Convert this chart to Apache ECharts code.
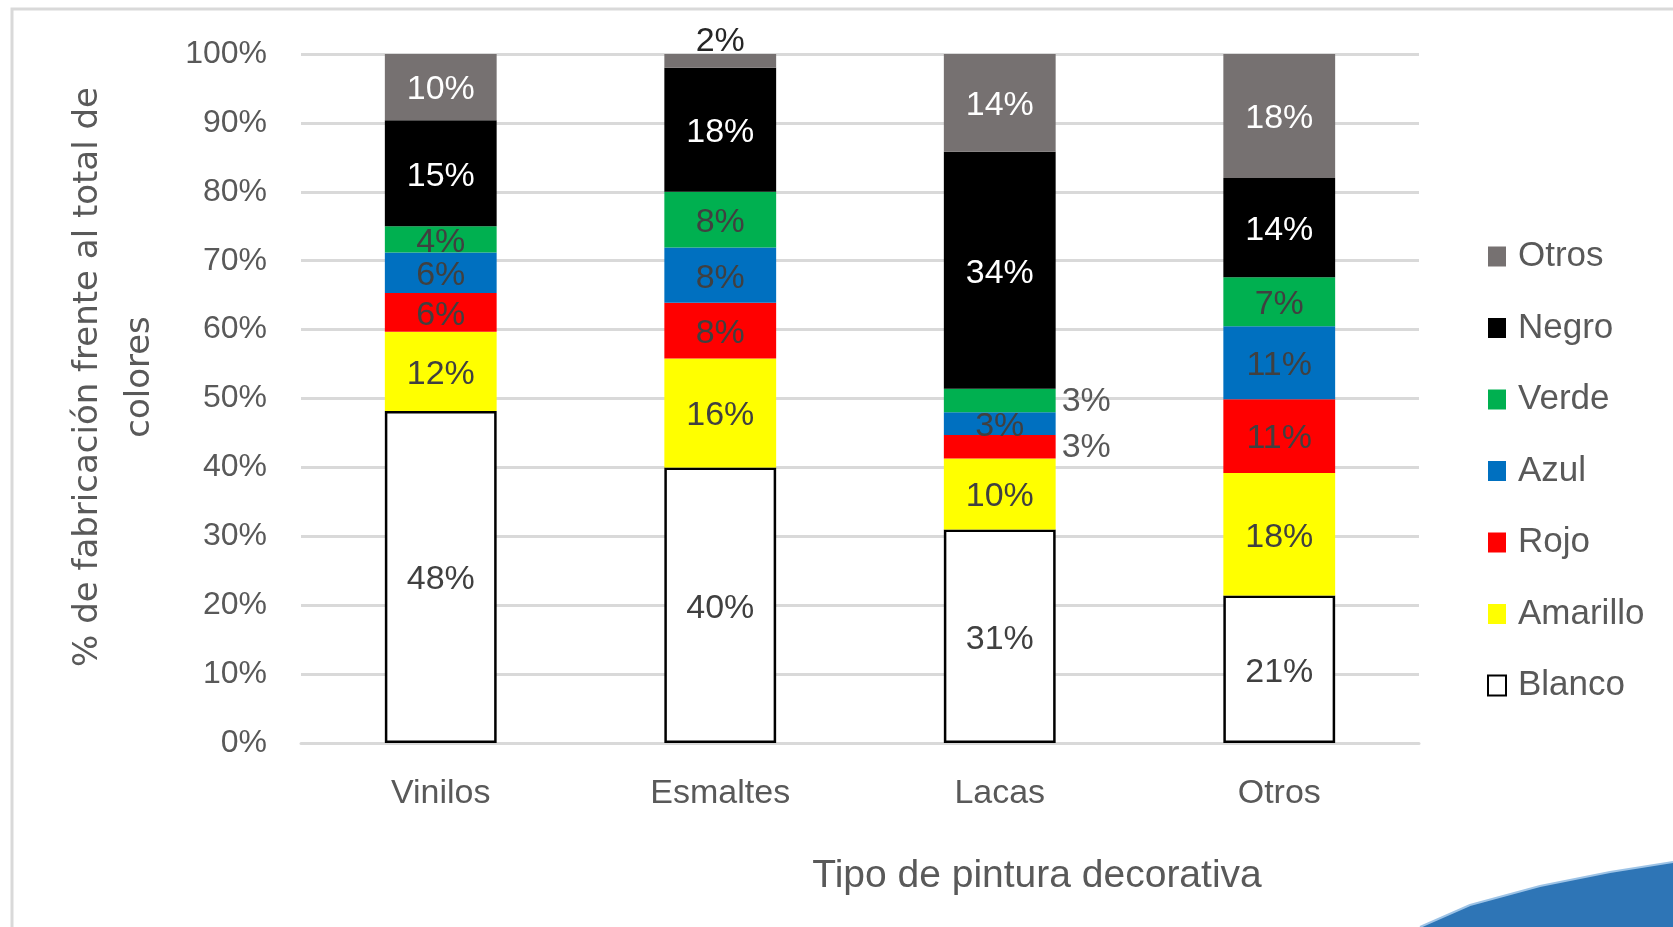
<!DOCTYPE html>
<html>
<head>
<meta charset="utf-8">
<script src="https://cdn.jsdelivr.net/npm/echarts@6/dist/echarts.min.js"></script>
<style>
  html, body { margin: 0; padding: 0; background: #fff; }
  #chart { width: 1673px; height: 927px; }
</style>
</head>
<body>
<div id="chart"></div>
<script>
// categories and shares (%) per colour, bottom to top of each stack
const categories = ["Vinilos", "Esmaltes", "Lacas", "Otros"];
const blanco   = [48.2, 40.0, 31.0, 21.4];
const amarillo = [11.5, 15.8, 10.3, 17.8];
const rojo     = [5.6, 8.1, 3.4, 10.7];
const azul     = [5.9, 8.0, 3.3, 10.6];
const verde    = [3.8, 8.1, 3.4, 7.1];
const negro    = [15.4, 18.0, 34.4, 14.4];
const otros    = [9.6, 2.0, 14.2, 18.0];
const legendOrder = ["Otros", "Negro", "Verde", "Azul", "Rojo", "Amarillo", "Blanco"];

const FONT = "'Liberation Sans', Arial, sans-serif";
const pct = (p) => Math.round(p.value) + "%";

const chart = echarts.init(document.getElementById("chart"));

function makeSeries(name, values, color, labelColor, overrides) {
  return {
    name: name,
    type: "bar",
    stack: "total",
    barWidth: "40%",
    data: values.map((v, i) =>
      overrides && overrides[i] ? { value: v, label: overrides[i] } : v
    ),
    itemStyle: name === "Blanco"
      ? { color: "#ffffff", borderColor: "#000000", borderWidth: 2.5 }
      : { color: color },
    label: {
      show: true,
      position: "inside",
      offset: [0, 3],
      formatter: pct,
      color: labelColor,
      fontFamily: FONT,
      fontSize: 34
    }
  };
}

const outsideRight = { position: "right", distance: 6, offset: [0, 1], color: "#595959" };

chart.setOption({
  backgroundColor: "#ffffff",
  animation: false,
  grid: { left: 301, right: 254, top: 54, bottom: 184 },
  legend: {
    orient: "vertical",
    left: 1482,
    top: 234,
    icon: "rect",
    itemWidth: 18,
    itemHeight: 20,
    itemGap: 36.5,
    data: legendOrder,
    textStyle: { color: "#595959", fontFamily: FONT, fontSize: 35, padding: [0, 0, 0, 7] }
  },
  xAxis: {
    type: "category",
    data: categories,
    axisTick: { show: false },
    axisLine: { lineStyle: { color: "#D9D9D9", width: 3 } },
    axisLabel: { color: "#595959", fontFamily: FONT, fontSize: 34, margin: 34 }
  },
  yAxis: {
    type: "value",
    min: 0,
    max: 100,
    interval: 10,
    axisLabel: { formatter: "{value}%", color: "#595959", fontFamily: FONT, fontSize: 32, margin: 34 },
    axisLine: { show: false },
    splitLine: { lineStyle: { color: "#D9D9D9", width: 3 } }
  },
  graphic: [
    {
      type: "rect",
      shape: { x: 12, y: 9, width: 1800, height: 1000 },
      style: { fill: "none", stroke: "#D9D9D9", lineWidth: 3 },
      silent: true
    },
    {
      // decorative swoosh from the slide background
      type: "polygon",
      shape: { points: [[1420, 927], [1470, 905], [1540, 886], [1610, 872], [1673, 862], [1673, 927]] },
      style: { fill: "#2E75B6" },
      silent: true
    },
    {
      type: "polyline",
      shape: { points: [[1420, 927], [1470, 905], [1540, 886], [1610, 872], [1673, 862]] },
      style: { fill: "none", stroke: "#9DC3E6", lineWidth: 2 },
      silent: true
    },
    {
      type: "text",
      x: 1037,
      y: 876,
      style: {
        text: "Tipo de pintura decorativa",
        fill: "#595959",
        font: "39px " + FONT,
        align: "center",
        verticalAlign: "middle"
      }
    },
    {
      type: "text",
      x: 114,
      y: 377,
      rotation: Math.PI / 2,
      style: {
        text: "% de fabricación frente al total de\ncolores",
        fill: "#595959",
        font: "34px 'DejaVu Sans', Verdana, sans-serif",
        lineHeight: 52,
        align: "center",
        verticalAlign: "middle"
      }
    }
  ],
  series: [
    makeSeries("Blanco", blanco, "#ffffff", "#404040"),
    makeSeries("Amarillo", amarillo, "#FFFF00", "#404040"),
    makeSeries("Rojo", rojo, "#FF0000", "#404040", { 2: outsideRight }),
    makeSeries("Azul", azul, "#0070C0", "#404040"),
    makeSeries("Verde", verde, "#00B050", "#404040", { 2: outsideRight }),
    makeSeries("Negro", negro, "#000000", "#ffffff"),
    makeSeries("Otros", otros, "#767171", "#ffffff", { 1: { position: "top", distance: 0, offset: [0, 5], color: "#262626" } })
  ]
});
</script>
</body>
</html>
